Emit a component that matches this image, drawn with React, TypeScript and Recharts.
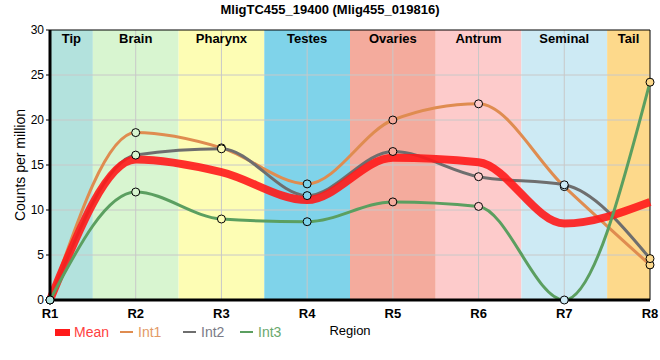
import React from 'react';
import {
  LineChart,
  Line,
  XAxis,
  YAxis,
  ReferenceArea,
  ReferenceLine,
  Legend,
} from 'recharts';

const regions = ['R1', 'R2', 'R3', 'R4', 'R5', 'R6', 'R7', 'R8'];
const regionPos = [1, 2, 3, 4, 5, 6, 7, 8];
const meanValues = [0, 15.6, 14.2, 11.1, 15.8, 15.3, 8.5, 10.9];
const int1Values = [0, 18.6, 16.9, 12.9, 20.0, 21.8, 12.6, 3.9];
const int2Values = [0, 16.1, 16.8, 11.6, 16.5, 13.7, 12.8, 4.6];
const int3Values = [0, 12.0, 9.0, 8.7, 10.9, 10.4, 0, 24.2];

const bandNames = ['Tip', 'Brain', 'Pharynx', 'Testes', 'Ovaries', 'Antrum', 'Seminal', 'Tail'];
const bandStarts = [1, 1.5, 2.5, 3.5, 4.5, 5.5, 6.5, 7.5];
const bandEnds = [1.5, 2.5, 3.5, 4.5, 5.5, 6.5, 7.5, 8];
const bandColors = ['#b3e2dd', '#d8f5d0', '#fdfdb4', '#7fd3ea', '#f4ab9d', '#fdcbcb', '#cdeaf4', '#fdd98b'];

const yTicks = [0, 5, 10, 15, 20, 25, 30];
const gridY = [5, 10, 15, 20, 25];

const COLORS = {
  mean: '#ff1a1a',
  int1: '#df8c50',
  int2: '#6e6e6e',
  int3: '#5b9f60',
};

const data = regions.map((r, i) => ({
  x: regionPos[i],
  name: r,
  mean: meanValues[i],
  int1: int1Values[i],
  int2: int2Values[i],
  int3: int3Values[i],
}));

const FONT = '"Liberation Sans", Arial, sans-serif';

const renderDot = (props: any) => {
  const { cx, cy, index } = props;
  if (cx == null || cy == null) return <g key={`d-${index}`} />;
  return (
    <circle
      key={`d-${props.dataKey}-${index}`}
      cx={cx}
      cy={cy}
      r={4}
      fill={bandColors[index]}
      stroke="#000"
      strokeWidth={1}
    />
  );
};

const legendItems = [
  { label: 'Mean', color: COLORS.mean, text: '#ff4040', thick: true, left: 0 },
  { label: 'Int1', color: COLORS.int1, text: '#e39a66', thick: false, left: 65 },
  { label: 'Int2', color: COLORS.int2, text: '#7a7a86', thick: false, left: 128 },
  { label: 'Int3', color: COLORS.int3, text: '#6aa86e', thick: false, left: 185 },
];

const LegendContent = () => (
  <div style={{ position: 'relative', height: 20, width: 260, fontFamily: FONT, fontSize: 14 }}>
    {legendItems.map((it) => (
      <div
        key={it.label}
        style={{ position: 'absolute', left: it.left, top: 0, height: 20, display: 'flex', alignItems: 'center' }}
      >
        <div
          style={{
            width: it.thick ? 15 : 13,
            height: it.thick ? 7 : 2,
            background: it.color,
            marginRight: it.thick ? 4 : 5,
          }}
        />
        <span style={{ color: it.text }}>{it.label}</span>
      </div>
    ))}
  </div>
);

export default function App() {
  return (
    <div style={{ position: 'absolute', left: 0, top: 0, width: 660, height: 360, background: '#fff' }}>
      <div
        style={{
          position: 'absolute',
          left: 0,
          top: 2,
          width: 660,
          textAlign: 'center',
          fontFamily: FONT,
          fontWeight: 'bold',
          fontSize: 13,
          color: '#000',
        }}
      >
        MligTC455_19400 (Mlig455_019816)
      </div>
      <LineChart
        width={660}
        height={360}
        data={data}
        margin={{ top: 30, right: 10, bottom: 18, left: 0 }}
      >
        {bandNames.map((b, i) => (
          <ReferenceArea
            key={b}
            x1={bandStarts[i]}
            x2={bandEnds[i]}
            y1={0}
            y2={30}
            fill={bandColors[i]}
            fillOpacity={1}
            stroke="none"
            label={{
              value: b,
              position: 'insideTop',
              offset: 4,
              fill: '#000',
              fontWeight: 'bold',
              fontSize: 13,
              fontFamily: FONT,
            }}
          />
        ))}
        {gridY.map((y) => (
          <ReferenceLine key={`gy-${y}`} y={y} stroke="#c8c8c8" strokeWidth={1} />
        ))}
        {regionPos.slice(1, 7).map((x) => (
          <ReferenceLine key={`gx-${x}`} x={x} stroke="#c8c8c8" strokeWidth={1} />
        ))}
        <ReferenceLine y={30} stroke="#000" strokeWidth={1} />
        <ReferenceLine x={8} stroke="#000" strokeWidth={1} />
        <XAxis
          dataKey="x"
          type="number"
          domain={[1, 8]}
          ticks={regionPos}
          tickFormatter={(v: number) => regions[regionPos.indexOf(v)]}
          height={22}
          axisLine={{ stroke: '#000', strokeWidth: 3 }}
          tickLine={false}
          tick={{ fill: '#000', fontSize: 13, fontWeight: 'bold', fontFamily: FONT }}
          tickMargin={3}
          label={{
            value: 'Region',
            position: 'bottom',
            offset: 4,
            fill: '#000',
            fontSize: 13,
            fontFamily: FONT,
          }}
        />
        <YAxis
          type="number"
          domain={[0, 30]}
          ticks={yTicks}
          width={50}
          axisLine={{ stroke: '#000', strokeWidth: 3 }}
          tickLine={{ stroke: '#000' }}
          tickSize={4}
          tick={{ fill: '#000', fontSize: 12, fontFamily: FONT }}
          label={{
            value: 'Counts per million',
            angle: -90,
            position: 'insideLeft',
            offset: 20,
            fill: '#000',
            fontSize: 14,
            fontFamily: FONT,
            style: { textAnchor: 'middle' },
          }}
        />
        <Legend
          verticalAlign="bottom"
          align="left"
          content={<LegendContent />}
          wrapperStyle={{ left: 55, bottom: 18, height: 20 }}
        />
        <Line
          type="monotone"
          dataKey="int1"
          name="Int1"
          stroke={COLORS.int1}
          strokeWidth={3}
          dot={renderDot}
          activeDot={false}
          isAnimationActive={false}
        />
        <Line
          type="monotone"
          dataKey="int2"
          name="Int2"
          stroke={COLORS.int2}
          strokeWidth={3}
          dot={renderDot}
          activeDot={false}
          isAnimationActive={false}
        />
        <Line
          type="monotone"
          dataKey="mean"
          name="Mean"
          stroke={COLORS.mean}
          strokeOpacity={0.9}
          strokeWidth={8}
          dot={false}
          activeDot={false}
          isAnimationActive={false}
        />
        <Line
          type="monotone"
          dataKey="int3"
          name="Int3"
          stroke={COLORS.int3}
          strokeWidth={3}
          dot={renderDot}
          activeDot={false}
          isAnimationActive={false}
        />
      </LineChart>
    </div>
  );
}
